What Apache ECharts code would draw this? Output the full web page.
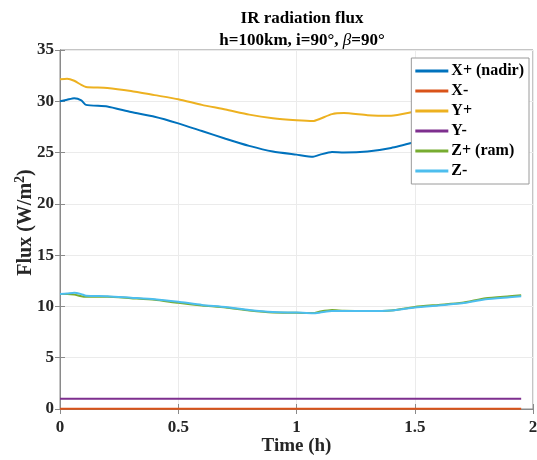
<!DOCTYPE html>
<html>
<head>
<meta charset="utf-8">
<script src="https://cdn.jsdelivr.net/npm/echarts@6/dist/echarts.min.js"></script>
<style>
  html, body { margin: 0; padding: 0; background: #fff; }
  #chart { width: 537px; height: 460px; }
</style>
</head>
<body>
<div id="chart"></div>
<script>
// Sample times (hours) shared by every face
const timeH = [0, 0.03, 0.06, 0.09, 0.11, 0.2, 0.3, 0.4, 0.5, 0.6, 0.7, 0.8, 0.9, 1.0,
               1.07, 1.1, 1.15, 1.2, 1.3, 1.4, 1.5, 1.6, 1.7, 1.8, 1.9, 1.95];

// IR flux per face (W/m^2)
const xPlus  = [30.0, 30.15, 30.3, 30.1, 29.65, 29.5, 28.95, 28.5, 27.85, 27.1, 26.35, 25.65, 25.1, 24.8,
                24.6, 24.8, 25.05, 25.0, 25.1, 25.45, 26.0, 26.6, 27.1, 27.6, 28.0, 28.2];
const xMinus = [0.02, 0.02, 0.02, 0.02, 0.02, 0.02, 0.02, 0.02, 0.02, 0.02, 0.02, 0.02, 0.02, 0.02,
                0.02, 0.02, 0.02, 0.02, 0.02, 0.02, 0.02, 0.02, 0.02, 0.02, 0.02, 0.02];
const yPlus  = [32.15, 32.2, 32.0, 31.6, 31.4, 31.3, 31.0, 30.6, 30.2, 29.65, 29.2, 28.7, 28.35, 28.15,
                28.07, 28.3, 28.75, 28.85, 28.65, 28.6, 29.0, 29.4, 29.8, 30.2, 30.5, 30.6];
const yMinus = [1.0, 1.0, 1.0, 1.0, 1.0, 1.0, 1.0, 1.0, 1.0, 1.0, 1.0, 1.0, 1.0, 1.0,
                1.0, 1.0, 1.0, 1.0, 1.0, 1.0, 1.0, 1.0, 1.0, 1.0, 1.0, 1.0];
const zPlus  = [11.2, 11.2, 11.15, 11.0, 10.95, 10.95, 10.8, 10.65, 10.35, 10.1, 9.9, 9.6, 9.4, 9.38,
                9.35, 9.5, 9.65, 9.58, 9.55, 9.6, 9.95, 10.15, 10.35, 10.8, 11.0, 11.1];
const zMinus = [11.2, 11.25, 11.33, 11.2, 11.05, 11.0, 10.85, 10.7, 10.45, 10.15, 9.95, 9.65, 9.45, 9.4,
                9.33, 9.4, 9.55, 9.55, 9.55, 9.6, 9.9, 10.1, 10.3, 10.7, 10.9, 11.0];

const seriesNames = ['X+ (nadir)', 'X-', 'Y+', 'Y-', 'Z+ (ram)', 'Z-'];
const seriesColors = ['#0072BD', '#D95319', '#EDB120', '#7E2F8E', '#77AC30', '#4DBEEE'];
const seriesValues = [xPlus, xMinus, yPlus, yMinus, zPlus, zMinus];

const FONT = '"Liberation Serif", "Times New Roman", serif';
const AXIS_GRAY = '#8a8a8a';
const GRID_GRAY = '#ebebeb';

const chart = echarts.init(document.getElementById('chart'), null, { renderer: 'canvas' });

const pairs = (vals) => timeH.map((t, i) => [t, vals[i]]);

chart.setOption({
  animation: false,
  backgroundColor: '#fff',
  title: {
    text: 'IR radiation flux\nh=100km, i=90°, {b|β}=90°',
    left: 297,
    textAlign: 'center',
    top: 3,
    textStyle: {
      fontFamily: FONT, fontWeight: 'bold', fontSize: 17, color: '#000', lineHeight: 22,
      rich: { b: { fontFamily: FONT, fontStyle: 'italic', fontWeight: 'normal', fontSize: 17, color: '#000' } }
    }
  },
  grid: {
    left: 60, right: 4, top: 50, bottom: 51,
    outerBoundsMode: 'none', containLabel: false,
    show: true, borderColor: AXIS_GRAY, borderWidth: 1
  },
  legend: {
    orient: 'vertical',
    right: 8,
    top: 58,
    backgroundColor: '#fff',
    borderColor: '#9a9a9a',
    borderWidth: 1,
    borderRadius: 0,
    padding: [5, 5, 5, 4],
    itemGap: 4,
    itemWidth: 33,
    itemHeight: 3,
    icon: 'rect',
    textStyle: { fontFamily: FONT, fontWeight: 'bold', fontSize: 16, lineHeight: 16, color: '#000', padding: [0, 0, 0, -2] },
    data: seriesNames
  },
  xAxis: [{
    type: 'value', min: 0, max: 2, interval: 0.5,
    name: 'Time (h)', nameLocation: 'middle', nameGap: 28, nameMoveOverlap: false,
    nameTextStyle: { fontFamily: FONT, fontWeight: 'bold', fontSize: 19, color: '#262626' },
    axisLine: { show: true, lineStyle: { color: AXIS_GRAY } },
    axisTick: { show: true, inside: true, length: 5, lineStyle: { color: AXIS_GRAY } },
    axisLabel: { fontFamily: FONT, fontWeight: 'bold', fontSize: 17, color: '#262626', margin: 10 },
    splitLine: { show: true, lineStyle: { color: GRID_GRAY } }
  }, {
    type: 'value', position: 'top', min: 0, max: 2, interval: 0.5,
    axisLine: { show: true, lineStyle: { color: AXIS_GRAY } },
    axisTick: { show: true, inside: true, length: 5, lineStyle: { color: AXIS_GRAY } },
    axisLabel: { show: false }, splitLine: { show: false }
  }],
  yAxis: [{
    type: 'value', min: 0, max: 35, interval: 5,
    name: 'Flux (W/m{sup|2})', nameLocation: 'middle', nameGap: 22, nameMoveOverlap: false,
    nameTextStyle: {
      fontFamily: FONT, fontWeight: 'bold', fontSize: 20, color: '#262626',
      padding: [0, 0, 0, 14],
      rich: { sup: { fontFamily: FONT, fontWeight: 'bold', fontSize: 14, color: '#262626', padding: [0, 0, 11, 0] } }
    },
    axisLine: { show: true, lineStyle: { color: AXIS_GRAY } },
    axisTick: { show: true, inside: true, length: 5, lineStyle: { color: AXIS_GRAY } },
    axisLabel: { fontFamily: FONT, fontWeight: 'bold', fontSize: 17, color: '#262626', margin: 6 },
    splitLine: { show: true, lineStyle: { color: GRID_GRAY } }
  }, {
    type: 'value', position: 'right', min: 0, max: 35, interval: 5,
    axisLine: { show: true, lineStyle: { color: AXIS_GRAY } },
    axisTick: { show: true, inside: true, length: 5, lineStyle: { color: AXIS_GRAY } },
    axisLabel: { show: false }, splitLine: { show: false }
  }],
  series: seriesNames.map((name, i) => ({
    name,
    type: 'line',
    xAxisIndex: 0,
    yAxisIndex: 0,
    data: pairs(seriesValues[i]),
    showSymbol: false,
    symbol: 'none',
    smooth: 0.2,
    color: seriesColors[i],
    lineStyle: { width: 2, color: seriesColors[i] }
  }))
});
</script>
</body>
</html>
